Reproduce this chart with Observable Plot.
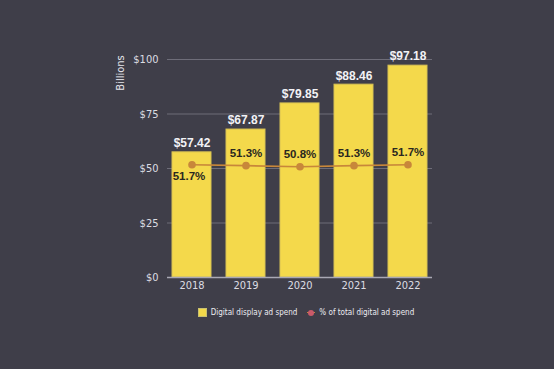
<!DOCTYPE html>
<html>
<head>
<meta charset="utf-8">
<script src="https://cdn.jsdelivr.net/npm/d3@7"></script>
<script src="https://cdn.jsdelivr.net/npm/@observablehq/plot@0.6"></script>
<style>
  html, body { margin: 0; padding: 0; background: #3f3e49; width: 554px; height: 369px; overflow: hidden; }
  #chart { position: relative; width: 554px; height: 369px; }
  #legend { position: absolute; top: 308px; left: 0; width: 554px; display: flex; justify-content: center; gap: 10px;
    font-family: "DejaVu Sans Condensed", "DejaVu Sans", sans-serif; font-size: 8px; color: #ececf2; padding-left: 58px; box-sizing: border-box; }
  .item { display: flex; align-items: center; gap: 4px; }
  .sw { width: 7px; height: 7px; background: #f3d94a; border: 1px solid #c8c070; }
  .ln { position: relative; width: 8px; height: 8px; }
  .ln::before { content: ""; position: absolute; left: 0; right: 0; top: 3.5px; height: 1px; background: #c8873a; }
  .ln::after { content: ""; position: absolute; left: 1px; top: 1px; width: 6px; height: 6px; border-radius: 50%; background: #c95a6a; }
</style>
</head>
<body>
<div id="chart"></div>
<script>
const years = ["2018", "2019", "2020", "2021", "2022"];
const spend = [57.42, 67.87, 79.85, 88.46, 97.18];
const share = [51.7, 51.3, 50.8, 51.3, 51.7];
const spendLabels = ["$57.42", "$67.87", "$79.85", "$88.46", "$97.18"];
const shareLabels = ["51.7%", "51.3%", "50.8%", "51.3%", "51.7%"];
const yTicks = [0, 25, 50, 75, 100];

const rows = years.map((y, i) => ({year: y, spend: spend[i], share: share[i], sl: spendLabels[i], pl: shareLabels[i], below: i === 0}));
const font = '"DejaVu Sans Condensed", "DejaVu Sans", sans-serif';
const narrow = '"Liberation Sans", Arial, sans-serif';

const plot = Plot.plot({
  width: 554,
  height: 300,
  marginLeft: 167,
  marginRight: 122,
  marginTop: 59,
  marginBottom: 23,
  style: {background: "transparent", color: "#dcdce2", fontFamily: font, fontSize: "11px"},
  x: {domain: years, label: null, paddingInner: 0.27, paddingOuter: 0.06, tickSize: 0, tickPadding: 4},
  y: {domain: [0, 100], ticks: yTicks, tickFormat: d => "$" + d, label: null, tickSize: 0, tickPadding: 9},
  marks: [
    Plot.gridY(yTicks.filter(d => d > 0), {stroke: "#6e6d79", strokeOpacity: 1, strokeWidth: 1}),
    Plot.barY(rows, {x: "year", y: "spend", fill: "#f4d94b", stroke: "#d8c254", strokeWidth: 1}),
    Plot.ruleY([0], {stroke: "#a9a8b4", strokeWidth: 1.5}),
    Plot.text(rows, {x: "year", y: "spend", text: "sl", dy: -9, fill: "#f2f2f6", fontWeight: "bold", fontSize: 12, fontFamily: narrow}),
    Plot.line(rows, {x: "year", y: "share", stroke: "#c8873a", strokeWidth: 1.6}),
    Plot.dot(rows, {x: "year", y: "share", r: 3.8, fill: "#c8873a", stroke: null}),
    Plot.text(rows.filter(d => !d.below), {x: "year", y: "share", text: "pl", dy: -12, fill: "#2a2820", fontWeight: "bold", fontSize: 11.5, fontFamily: narrow}),
    Plot.text(rows.filter(d => d.below), {x: "year", y: "share", text: "pl", dy: 12, dx: -3, fill: "#2a2820", fontWeight: "bold", fontSize: 11.5, fontFamily: narrow})
  ]
});
const chart = document.getElementById("chart");
chart.appendChild(plot);

// Y axis title
const svg = d3.select(plot);
svg.append("text")
  .attr("transform", "translate(124,73) rotate(-90)")
  .attr("text-anchor", "middle")
  .attr("fill", "#e6e6ec")
  .attr("font-size", 11)
  .attr("font-family", font)
  .text("Billions");

const legend = document.createElement("div");
legend.id = "legend";
legend.innerHTML = '<div class="item"><span class="sw"></span><span>Digital display ad spend</span></div>' +
  '<div class="item"><span class="ln"></span><span>% of total digital ad spend</span></div>';
chart.appendChild(legend);
</script>
</body>
</html>
